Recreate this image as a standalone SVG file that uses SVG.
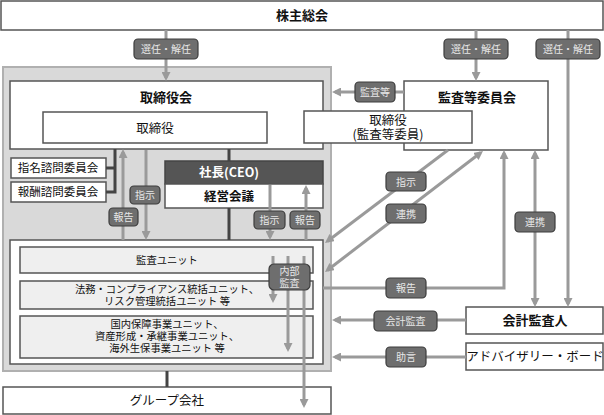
<svg xmlns="http://www.w3.org/2000/svg" width="604" height="415" viewBox="0 0 604 415">
<defs>
<style>
text{font-family:"Noto Sans CJK JP","Noto Sans",sans-serif;text-anchor:middle;fill:#111}
.box{fill:#fff;stroke:#555;stroke-width:1.5}
.unit{fill:#efefef;stroke:#555;stroke-width:1.5}
.cont{fill:#d9d9d9;stroke:#b0b0b0;stroke-width:2}
.arr{stroke:#9a9a9a;stroke-width:3;fill:none}
.dk{stroke:#444;stroke-width:3;fill:none}
.lbl rect{fill:#6e6e6e;stroke:#3c3c3c;stroke-width:1.2}
.lbl text{font-size:10px;fill:#e8e8e8}
.t13{font-size:13px;font-weight:bold}
.t12{font-size:12.5px}
.t11{font-size:11.5px}
.u{font-size:10.3px}
</style>
<marker id="a" viewBox="0 0 9 9" refX="6" refY="4.5" markerWidth="9" markerHeight="9" markerUnits="userSpaceOnUse" orient="auto-start-reverse">
<path d="M0,0 L9,4.5 L0,9 z" fill="#9a9a9a"/>
</marker>
</defs>

<g id="shareholders"><rect class="box" x="1" y="1" width="602" height="29"/><text class="t13" x="302" y="20">株主総会</text></g>

<g id="company-frame"><rect class="cont" x="3" y="67" width="328" height="304"/></g>

<g id="board"><rect class="box" x="10" y="81" width="313" height="68"/><text class="t13" x="166" y="102">取締役会</text></g>
<g id="directors"><rect class="box" x="43" y="112" width="224" height="31"/><text class="t12" x="155" y="133">取締役</text></g>

<g id="nomination"><rect class="box" x="11" y="158" width="95" height="20"/><text class="t11" x="58" y="172">指名諮問委員会</text></g>
<g id="remuneration"><rect class="box" x="11" y="182" width="95" height="20"/><text class="t11" x="58" y="196">報酬諮問委員会</text></g>

<g id="ceo"><rect x="165" y="161" width="158" height="23" fill="#555" stroke="#444" stroke-width="1.5"/><text class="t12" x="229" y="177" style="fill:#fff;font-weight:bold">社長(CEO)</text>
<rect class="box" x="165" y="184" width="158" height="24"/><text class="t12" x="229" y="201" style="font-weight:bold">経営会議</text></g>

<g id="units-frame"><rect class="box" x="10" y="240" width="313" height="124"/></g>
<g id="audit-unit"><rect class="unit" x="20" y="247" width="293" height="26"/><text class="u" x="167" y="264">監査ユニット</text></g>
<g id="legal-unit"><rect class="unit" x="20" y="281" width="293" height="28"/><text class="u" x="167" y="293">法務・コンプライアンス統括ユニット、</text><text class="u" x="167" y="305">リスク管理統括ユニット 等</text></g>
<g id="business-unit"><rect class="unit" x="20" y="316" width="293" height="42"/><text class="u" x="167" y="328">国内保障事業ユニット、</text><text class="u" x="167" y="340">資産形成・承継事業ユニット、</text><text class="u" x="167" y="352">海外生保事業ユニット 等</text></g>

<g id="group"><rect class="box" x="3" y="387" width="328" height="27"/><text class="t12" x="167" y="405">グループ会社</text></g>

<g id="audit-committee"><rect class="box" x="404" y="81" width="144" height="69"/><text class="t13" x="477" y="102">監査等委員会</text></g>

<g id="auditor"><rect class="box" x="466" y="307" width="137" height="27"/><text class="t13" x="535" y="325">会計監査人</text></g>
<g id="advisory"><rect class="box" x="466" y="343" width="137" height="27"/><text class="t12" x="535" y="361">アドバイザリー・ボード</text></g>

<g id="connectors">
<path class="arr" d="M166,30 V78" marker-end="url(#a)"/>
<path class="arr" d="M476,30 V78" marker-end="url(#a)"/>
<path class="arr" d="M568,30 V304" marker-end="url(#a)"/>
<path class="arr" d="M404,92 H335" marker-end="url(#a)"/>
<path class="arr" d="M123,240 V152" marker-end="url(#a)"/>
<path class="arr" d="M146,150 V237" marker-end="url(#a)"/>
<path class="arr" d="M270,185 V237" marker-end="url(#a)"/>
<path class="arr" d="M306,240 V188" marker-end="url(#a)"/>
<path class="arr" d="M273,256 V300" marker-end="url(#a)"/>
<path class="arr" d="M288,256 V349" marker-end="url(#a)"/>
<path class="arr" d="M304,256 V405" marker-end="url(#a)"/>
<path class="arr" d="M448,150 L327.4,241.2" marker-end="url(#a)"/>
<path class="arr" d="M327.4,270.2 L480.6,152.8" marker-start="url(#a)" marker-end="url(#a)"/>
<path class="arr" d="M323,288 H504 V153" marker-end="url(#a)"/>
<path class="arr" d="M535,153 V304" marker-start="url(#a)" marker-end="url(#a)"/>
<path class="arr" d="M466,320 H335" marker-end="url(#a)"/>
<path class="arr" d="M466,357 H335" marker-end="url(#a)"/>
<path class="dk" d="M115,149 V192 H106 M115,168 H106"/>
<path class="dk" d="M229,149 V161 M229,208 V240"/>
<path class="dk" d="M167,371 V387"/>
</g>

<g id="audit-director"><rect class="box" x="304" y="111" width="168" height="32"/><text class="t12" x="388" y="125">取締役</text><text class="t12" x="388" y="139">(監査等委員)</text></g>

<g id="labels">
<g class="lbl"><rect x="134" y="39" width="64" height="20" rx="4"/><text x="166" y="53">選任・解任</text></g>
<g class="lbl"><rect x="444" y="39" width="64" height="20" rx="4"/><text x="476" y="53">選任・解任</text></g>
<g class="lbl"><rect x="536" y="39" width="64" height="20" rx="4"/><text x="568" y="53">選任・解任</text></g>
<g class="lbl"><rect x="355" y="82" width="40" height="20" rx="4"/><text x="375" y="96">監査等</text></g>
<g class="lbl"><rect x="109" y="208" width="29" height="18" rx="4"/><text x="123.5" y="221">報告</text></g>
<g class="lbl"><rect x="130" y="186" width="30" height="18" rx="4"/><text x="145" y="199">指示</text></g>
<g class="lbl"><rect x="254" y="211" width="31" height="18" rx="4"/><text x="269.5" y="224">指示</text></g>
<g class="lbl"><rect x="290" y="211" width="30" height="18" rx="4"/><text x="305" y="224">報告</text></g>
<g class="lbl"><rect x="269" y="264" width="41" height="26" rx="5"/><text x="289.5" y="275">内部</text><text x="289.5" y="287">監査</text></g>
<g class="lbl"><rect x="386" y="172" width="40" height="19" rx="4"/><text x="406" y="185.5">指示</text></g>
<g class="lbl"><rect x="386" y="204" width="40" height="19" rx="4"/><text x="406" y="217.5">連携</text></g>
<g class="lbl"><rect x="515" y="212" width="40" height="20" rx="4"/><text x="535" y="226">連携</text></g>
<g class="lbl"><rect x="386" y="278" width="40" height="20" rx="4"/><text x="406" y="292">報告</text></g>
<g class="lbl"><rect x="374" y="311" width="63" height="20" rx="4"/><text x="405.5" y="325">会計監査</text></g>
<g class="lbl"><rect x="386" y="347" width="40" height="20" rx="4"/><text x="406" y="361">助言</text></g>
</g>
</svg>
